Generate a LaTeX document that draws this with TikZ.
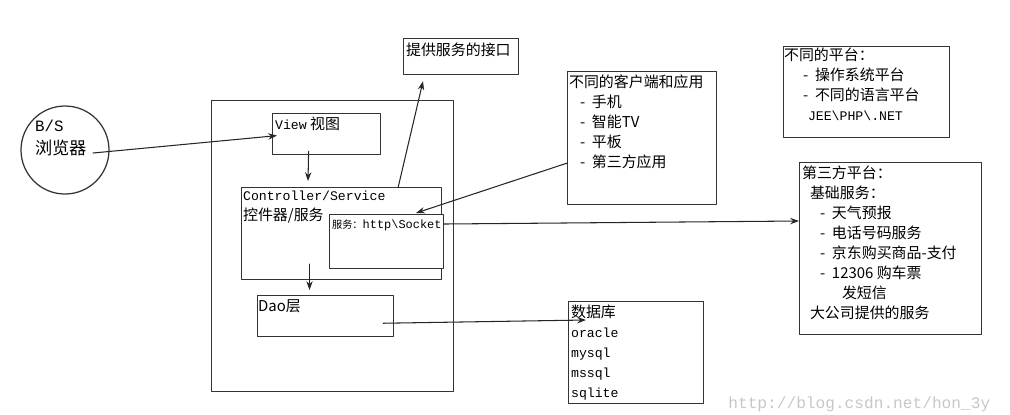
\documentclass[tikz,border=0pt]{standalone}
\usepackage{fontspec}
\setmainfont{Noto Sans CJK SC}
\newfontfamily\mono{Liberation Mono}
\usetikzlibrary{calc,arrows.meta}
\newcommand\itm{\makebox[6.8pt][l]{-}}
\newcommand\lat[1]{{\mono\fontsize{7.5}{9}\selectfont #1}}

\begin{document}
\begin{tikzpicture}[x=0.02cm,y=-0.02cm,line cap=round,line join=round,>={Stealth[length=5pt,width=3.6pt]},
  box/.style={draw=black!80,line width=0.7pt,fill=white,anchor=north west,inner sep=0pt},
  txt/.style={anchor=north west,inner sep=1pt,align=left,font=\fontsize{8.5}{11.4}\selectfont},
  link/.style={->,line width=0.6pt,black!85}]
  \def\u{0.02cm}
  \useasboundingbox (0,0) rectangle (1010,414);
  \node[draw=black!80,line width=0.7pt,circle,minimum size=88*\u,inner sep=0pt] (bs) at (65,150) {};
  \node[txt,font=\fontsize{9.8}{13}\selectfont] (bst) at (33,118) {{\mono\fontsize{9}{10}\selectfont B/S}\\浏览器};
  \node[box,minimum width=242*\u,minimum height=291*\u] (main) at (211,100) {};
  \node[box,minimum width=108*\u,minimum height=41*\u] (view) at (272,113) {};
  \node[txt] (viewt) at (273,115) {\lat{View} 视图};
  \node[box,minimum width=200*\u,minimum height=92*\u] (ctrl) at (241,187) {};
  \node[txt] (ctrlt) at (241,189) {\lat{Controller/Service}\\控件器/服务};
  \node[box,minimum width=114*\u,minimum height=54*\u] (srv) at (329,214) {};
  \node[txt,font=\fontsize{5.8}{7}\selectfont] (srvt) at (330,218) {服务：{\mono\fontsize{6.8}{7}\selectfont http\textbackslash Socket}};
  \node[box,minimum width=136*\u,minimum height=41*\u] (dao) at (257,295) {};
  \node[txt] (daot) at (256,298) {Dao层};
  \node[box,minimum width=135*\u,minimum height=102*\u] (db) at (568,301) {};
  \node[txt] (dbt) at (569,303) {数据库\\\lat{oracle}\\\lat{mysql}\\\lat{mssql}\\\lat{sqlite}};
  \node[box,minimum width=115*\u,minimum height=36*\u] (api) at (403,38) {};
  \node[txt] (apit) at (404,41) {提供服务的接口};
  \node[box,minimum width=149*\u,minimum height=133*\u] (cli) at (567,71) {};
  \node[txt] (clit) at (567,73) {不同的客户端和应用\\
    \hspace*{6.2pt}\itm 手机\\\hspace*{6.2pt}\itm 智能TV\\\hspace*{6.2pt}\itm 平板\\\hspace*{6.2pt}\itm 第三方应用};
  \node[box,minimum width=166*\u,minimum height=91*\u] (plat) at (783,46) {};
  \node[txt] (platt) at (782,46) {不同的平台：\\
    \hspace*{10.8pt}\itm 操作系统平台\\\hspace*{10.8pt}\itm 不同的语言平台\\
    \hspace*{13.6pt}\lat{JEE\textbackslash PHP\textbackslash.NET}};
  \node[box,minimum width=182*\u,minimum height=172*\u] (third) at (799,162) {};
  \node[txt] (thirdt) at (800,164) {第三方平台：\\
    \hspace*{4.5pt}基础服务：\\
    \hspace*{10.2pt}\itm 天气预报\\\hspace*{10.2pt}\itm 电话号码服务\\
    \hspace*{10.2pt}\itm 京东购买商品-支付\\\hspace*{10.2pt}\itm 12306 购车票\\
    \hspace*{22.7pt}发短信\\
    \hspace*{4.5pt}大公司提供的服务};
  \node[anchor=north west,inner sep=0pt,text=black!22,font=\mono\fontsize{9.2}{10}\selectfont] (mark) at (728,396) {http://blog.csdn.net/hon\_3y};
  \draw[link] ($(bs.center)+(28,3)$) -- ($(view.west)+(5,1.5)$);
  \draw[link] ($(view.south)+(-18,-4)$) -- ($(ctrl.north west)+(67,-6)$);
  \draw[link] ($(ctrl.south west)+(68.5,-16)$) -- ($(dao.north west)+(52.5,-5)$);
  \draw[link] ($(ctrl.north east)+(-44,0)$) -- ($(api.south west)+(20,6)$);
  \draw[link] ($(cli.west)+(0,25)$) -- ($(srv.north west)+(87,-1)$);
  \draw[link] ($(srv.north east)+(0,10)$) -- ($(third.north west)+(0,59)$);
  \draw[link] ($(dao.south east)+(-11,-14)$) -- ($(db.north west)+(18,19)$);
\end{tikzpicture}
\end{document}
